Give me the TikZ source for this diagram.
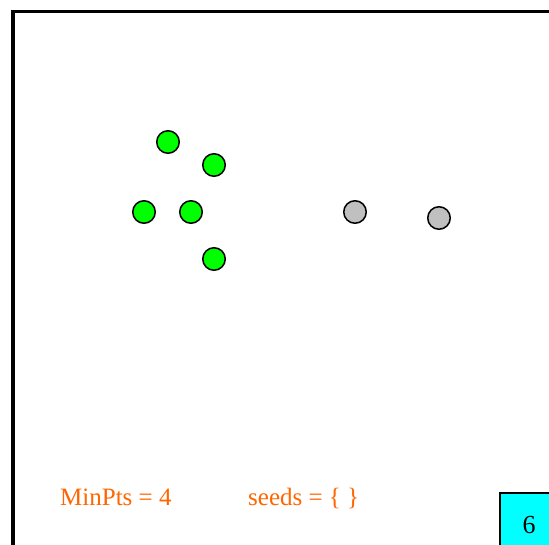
\documentclass[tikz,border=0pt]{standalone}
\usepackage{fontspec}
\setmainfont{Liberation Serif}
\definecolor{ptgreen}{HTML}{00FF00}
\definecolor{ptgray}{HTML}{C0C0C0}
\definecolor{lblorange}{HTML}{FF6600}
\definecolor{stepcyan}{HTML}{00FFFF}
\tikzset{
  px/.style={x=1pt, y=-1pt},
  frame/.style={black, line width=3.4pt},
  pt/.style={circle, draw=black, line width=1.5pt, minimum size=22.5pt, inner sep=0pt},
  core/.style={pt, fill=ptgreen},
  unvisited/.style={pt, fill=ptgray},
  info/.style={text=lblorange, font=\fontsize{25}{29}\selectfont, anchor=base west, inner sep=0pt},
  stepbox/.style={fill=stepcyan, draw=black, line width=2pt},
}

\begin{document}
\begin{tikzpicture}[px]
  \useasboundingbox (0,0) rectangle (549,545);
  \clip (0,0) rectangle (549,545);
  \fill[white] (0,0) rectangle (549,545);
  % outer frame (cut off at right and bottom)
  \draw[frame] (13,570) -- (13,11.5) -- (570,11.5);
  % cluster points
  \node[core] (p1) at (168,142) {};
  \node[core] (p2) at (214,165) {};
  \node[core] (p3) at (144,212) {};
  \node[core] (p4) at (191,212) {};
  \node[core] (p5) at (214,259) {};
  % not yet visited
  \node[unvisited] (q1) at (355,212) {};
  \node[unvisited] (q2) at (439,218) {};
  % parameters
  \node[info] (minpts) at (60,505) {MinPts = 4};
  \node[info] (seeds) at (248,505) {seeds = \{ \}};
  % step counter
  \draw[stepbox] (500,493) rectangle (580,580);
  \node[font=\fontsize{26}{30}\selectfont, anchor=base, inner sep=0pt] (step6) at (529,533) {6};
\end{tikzpicture}
\end{document}
